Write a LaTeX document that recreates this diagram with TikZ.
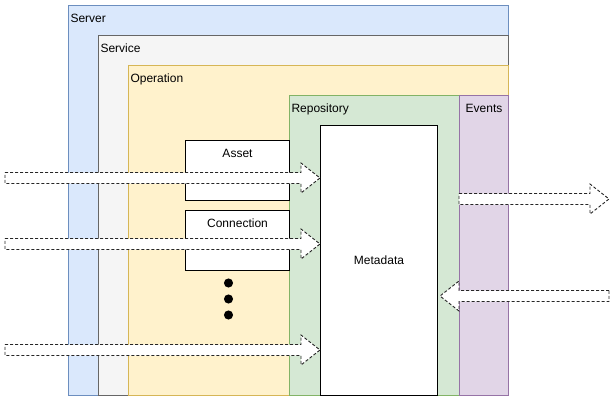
\documentclass[tikz,border=0pt]{standalone}
\usepackage{fontspec}
\setmainfont{Liberation Sans}
\usetikzlibrary{calc}

\definecolor{serverfill}{HTML}{DAE8FC}
\definecolor{serverline}{HTML}{6C8EBF}
\definecolor{servicefill}{HTML}{F5F5F5}
\definecolor{serviceline}{HTML}{666666}
\definecolor{opfill}{HTML}{FFF2CC}
\definecolor{opline}{HTML}{D6B656}
\definecolor{repofill}{HTML}{D5E8D4}
\definecolor{repoline}{HTML}{82B366}
\definecolor{eventfill}{HTML}{E1D5E7}
\definecolor{eventline}{HTML}{9673A6}

\newcommand{\flexarrow}[3]{
        \draw[flex]
        ($(#1)+(0,-5.5)$) -- ($(#2)+(#3*-19,-5.5)$) --
        ($(#2)+(#3*-19,-15)$) -- (#2) --
        ($(#2)+(#3*-19,15)$) -- ($(#2)+(#3*-19,5.5)$) --
        ($(#1)+(0,5.5)$) -- cycle;
}

\begin{document}
\begin{tikzpicture}[x = 1pt, y = -1pt, line width = 1pt,
        font = \fontsize{12}{14}\selectfont,
        box/.style = {draw, anchor = north west, inner sep = 0pt},
        lbl/.style = {anchor = base west, inner sep = 0pt},
        flex/.style = {draw = black!85, fill = white, line width = 0.9pt,
                dash pattern = on 3pt off 2pt}]
        \useasboundingbox (0,0) rectangle (615,401);
        
        \node[box, fill = serverfill, draw = serverline,
                minimum width = 440pt, minimum height = 390pt] (srv) at (68,5) {};
        \node[box, fill = servicefill, draw = serviceline,
                minimum width = 410pt, minimum height = 360pt] (svc) at (98,35) {};
        \node[box, fill = opfill, draw = opline,
                minimum width = 380pt, minimum height = 330pt] (op) at (128,65) {};
        \node[box, fill = repofill, draw = repoline,
                minimum width = 170pt, minimum height = 300pt] (repo) at (289,95) {};
        \node[box, fill = eventfill, draw = eventline,
                minimum width = 49pt, minimum height = 300pt] (ev) at (459,95) {};
        \node[box, fill = white, draw = black,
                minimum width = 117pt, minimum height = 270pt] (meta) at (320,125) {};
        \node[box, fill = white, draw = black,
                minimum width = 104pt, minimum height = 60pt] (asset) at (185,140) {};
        \node[box, fill = white, draw = black,
                minimum width = 104pt, minimum height = 60pt] (conn) at (185,210) {};
        
        \node[lbl] (srvlbl) at ([shift = {(2,18)}]srv.north west) {Server};
        \node[lbl] (svclbl) at ([shift = {(2,18)}]svc.north west) {Service};
        \node[lbl] (oplbl) at ([shift = {(2,18)}]op.north west) {Operation};
        \node[lbl] (repolbl) at ([shift = {(2,18)}]repo.north west) {Repository};
        \node[lbl, anchor = base] (evlbl) at ([shift = {(0,18)}]ev.north) {Events};
        \node[lbl, anchor = base] (assetlbl) at ([shift = {(0,17.5)}]asset.north) {Asset};
        \node[lbl, anchor = base] (connlbl) at ([shift = {(0,17.5)}]conn.north) {Connection};
        \node (metalbl) at (meta.center) {Metadata};
        
        \foreach \y in {283, 299, 315}
                \draw [fill = black] (228.5,\y) circle(4);
        
        \coordinate (in1) at (5,178);
        \coordinate (in2) at (5,244);
        \coordinate (in3) at (5,350);
        \coordinate (in4) at (609,296);
        \coordinate (out1) at (609,199);
        \coordinate (tip1) at (in1 -| meta.west);
        \coordinate (tip2) at (in2 -| meta.west);
        \coordinate (tip3) at (in3 -| meta.west);
        \coordinate (tip4) at ([xshift = 2]in4 -| meta.east);
        \coordinate (start1) at (out1 -| ev.west);
        
        \flexarrow{in1}{tip1}{1}
        \flexarrow{in2}{tip2}{1}
        \flexarrow{in3}{tip3}{1}
        \flexarrow{start1}{out1}{1}
        \flexarrow{in4}{tip4}{-1}
\end{tikzpicture}
\end{document}
